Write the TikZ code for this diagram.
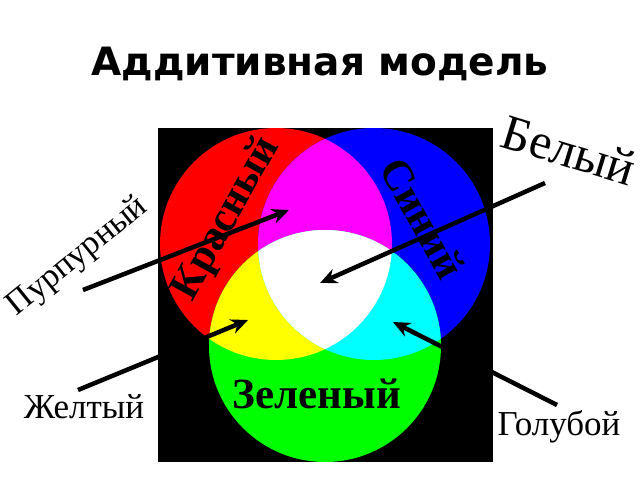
\documentclass[tikz,border=0pt]{standalone}
\usepackage{fontspec}
\setmainfont{Liberation Serif}
\newfontfamily\titlefont{DejaVu Sans}
\usetikzlibrary{arrows.meta}
\definecolor{cR}{RGB}{255,0,0}
\definecolor{cG}{RGB}{0,255,0}
\definecolor{cB}{RGB}{0,0,255}
\definecolor{cY}{RGB}{255,255,0}
\definecolor{cM}{RGB}{255,0,255}
\definecolor{cC}{RGB}{0,255,255}
\begin{document}
\begin{tikzpicture}[x=1pt,y=1pt]
        \tikzstyle{every node}=[inner sep=0pt];
        \tikzstyle{big}=[font=\bfseries\fontsize{43}{43}\selectfont];
        \tikzstyle{small}=[font=\fontsize{35}{35}\selectfont];
        \tikzstyle{arr}=[line width=4.5pt,-{Stealth[length=17pt,width=15pt]}];
        \useasboundingbox (0,0) rectangle (640,480);
        %\fill [color] (x,y) circle (r);
        %clip pairs for mixed colours
        \fill[black] (158,18) rectangle (493,352);
        \fill[cR] (276,236) circle (116pt);
        \fill[cB] (374,236) circle (116pt);
        \fill[cG] (325,134) circle (116pt);
        \begin{scope}
            \clip (276,236) circle (116pt);
            \fill[cM] (374,236) circle (116pt);
            \fill[cY] (325,134) circle (116pt);
        \end{scope}
        \begin{scope}
            \clip (374,236) circle (116pt);
            \fill[cC] (325,134) circle (116pt);
            \clip (276,236) circle (116pt);
            \fill[white] (325,134) circle (116pt);
        \end{scope}
        \node (title) at (320,404) [anchor=base,font=\titlefont\bfseries\fontsize{39}{39}\selectfont] {Аддитивная модель};
        \node (red) at (227,261) [big,rotate=61] {Красный};
        \node (blue) at (423,262) [big,rotate=-61] {Синий};
        \node (green) at (317,72) [big,anchor=base] {Зеленый};
        \node (purple) at (78,223) [small,rotate=39,font=\fontsize{34}{34}\selectfont] {Пурпурный};
        \node (white) at (569,330) [small,rotate=-17,font=\fontsize{50}{50}\selectfont] {Белый};
        \node (yellow) at (84,62) [small,anchor=base] {Желтый};
        \node (cyan) at (559,45) [small,anchor=base] {Голубой};
        \coordinate (m0) at (83,190);
        \coordinate (m) at (289,270);
        \coordinate (y0) at (78,90);
        \coordinate (y) at (248,160);
        \coordinate (w0) at (545,297);
        \coordinate (w) at (320,197);
        \coordinate (c0) at (557,75);
        \coordinate (c) at (393,158);
        \draw[arr] (m0)--(m);
        \draw[arr] (y0)--(y);
        \draw[arr] (w0)--(w);
        \draw[arr] (c0)--(c);
    \end{tikzpicture}
\end{document}
